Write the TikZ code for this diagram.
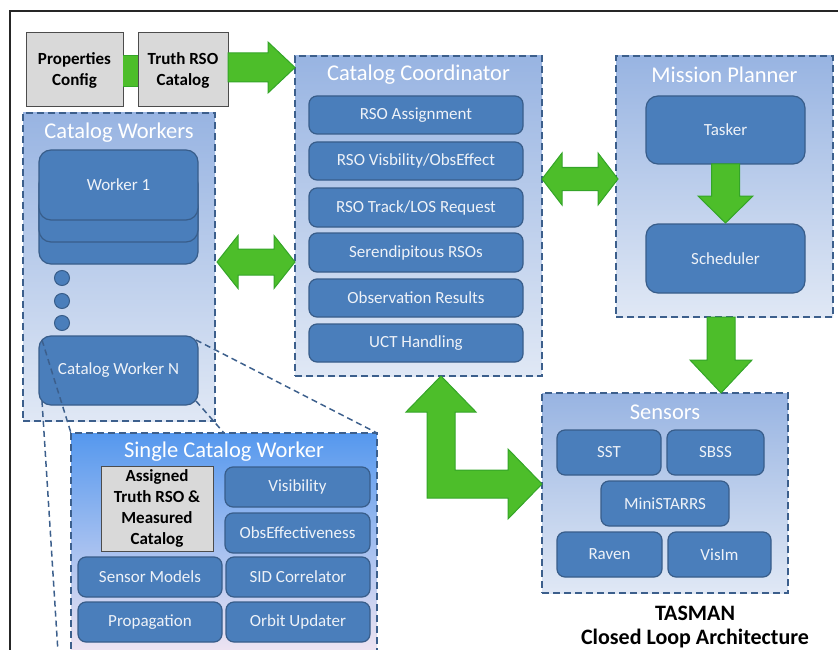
\documentclass[tikz,border=0pt]{standalone}
\usepackage{fontspec}
\setmainfont{Carlito}
\usetikzlibrary{calc}
\definecolor{itemfill}{RGB}{74,126,187}
\definecolor{itemline}{RGB}{56,93,138}
\definecolor{contline}{RGB}{60,95,140}
\definecolor{conttop}{RGB}{152,180,226}
\definecolor{contbot}{RGB}{224,232,245}
\definecolor{swtop}{RGB}{85,152,238}
\definecolor{swbot}{RGB}{250,234,242}
\definecolor{gfill}{RGB}{77,190,42}
\definecolor{gline}{RGB}{52,165,40}
\definecolor{grayfill}{RGB}{217,217,217}
\definecolor{itemtext}{RGB}{238,242,248}
\newcommand\bx[7]{\node[#1, minimum width={#5-#3}, minimum height={#6-#4}, anchor=north west] (#2) at (#3,#4) {#7};}
\begin{document}
\begin{tikzpicture}[x=1pt,y=-1pt,
 item/.style={draw=itemline, line width=1.2pt, fill=itemfill, rounded corners=8pt, text=itemtext, font=\fontsize{17}{19}\selectfont, inner sep=0pt, outer sep=0pt},
 container/.style={draw=contline, line width=1.8pt, dash pattern=on 7pt off 4pt, top color=conttop, bottom color=contbot, inner sep=0pt, outer sep=0pt},
 swbox/.style={draw=contline, line width=1.8pt, dash pattern=on 7pt off 4pt, top color=swtop, bottom color=swbot, inner sep=0pt, outer sep=0pt},
 ctitle/.style={text=white, font=\fontsize{22.5}{24}\selectfont, inner sep=0pt},
 graybox/.style={draw=black!70, line width=1pt, fill=grayfill, font=\bfseries\fontsize{17}{21}\selectfont, align=center, inner sep=0pt, outer sep=0pt},
 garrow/.style={fill=gfill, draw=gline, line width=1pt, line join=miter},
 projline/.style={draw=contline, line width=1.5pt, dash pattern=on 6pt off 4pt},
 wdot/.style={circle, draw=itemline, fill=itemfill, line width=1pt, minimum size=15pt, inner sep=0pt},
 caption/.style={font=\bfseries\fontsize{22}{24}\selectfont, text=black, inner sep=0pt}
]
\useasboundingbox (0,0) rectangle (838,650);
\clip (0,0) rectangle (838,650);
% frame
\draw[line width=2pt, draw=black!85] (10,670) -- (10,11) -- (860,11);

% containers
\bx{container}{workers}{23}{113}{215}{421}{}
\bx{container}{coord}{295}{56}{542}{376}{}
\bx{container}{planner}{616}{56}{833}{317}{}
\bx{container}{sensors}{542}{393}{788}{593}{}
\node[ctitle] (workersT) at (119,133) {Catalog Workers};
\node[ctitle] (coordT) at (418.5,75) {Catalog Coordinator};
\node[ctitle] (plannerT) at (724.5,75) {Mission Planner};
\node[ctitle] (sensorsT) at (665,412) {Sensors};

% top gray boxes
\bx{graybox}{props}{26}{33}{123}{107}{Properties\\Config}
\bx{graybox}{truth}{138}{33}{228}{107}{Truth RSO\\Catalog}
\fill[gfill] (123,56) rectangle (138,87);
\draw[gline, line width=1pt] (123,56) -- (138,56) (123,87) -- (138,87);

% coordinator items
\bx{item}{c1}{309}{96}{523}{134}{RSO Assignment}
\bx{item}{c2}{309}{142}{523}{180}{RSO Visbility/ObsEffect}
\bx{item}{c3}{309}{188}{523}{227}{RSO Track/LOS Request}
\bx{item}{c4}{309}{233}{523}{272}{Serendipitous RSOs}
\bx{item}{c5}{309}{279}{523}{317}{Observation Results}
\bx{item}{c6}{309}{324}{523}{362}{UCT Handling}

% planner items
\bx{item,rounded corners=12pt}{tasker}{646}{96}{805}{164}{Tasker}
\bx{item,rounded corners=12pt}{sched}{646}{224}{805}{293}{Scheduler}

% workers
\bx{item,rounded corners=12pt}{card3}{39}{194}{198}{264}{}
\bx{item,rounded corners=12pt}{card2}{39}{172}{198}{242}{}
\bx{item,rounded corners=12pt}{card1}{39}{150}{198}{220}{Worker 1}
\node[wdot] (d1) at (62,278) {};
\node[wdot] (d2) at (62,301) {};
\node[wdot] (d3) at (62,323) {};
\bx{item,rounded corners=12pt}{wN}{39}{336}{198}{405}{Catalog Worker N}

% sensors items
\bx{item}{sst}{557}{430}{661}{475}{SST}
\bx{item}{sbss}{667}{430}{764}{475}{SBSS}
\bx{item}{mini}{601}{481}{729}{526}{MiniSTARRS}
\bx{item}{raven}{557}{532}{662}{577}{Raven}
\bx{item}{visim}{668}{532}{771}{577}{VisIm}

% projection lines
\coordinate (pBL) at (59,668);
\coordinate (pBR) at (224,433);
\coordinate (sTL) at (71,433);
\coordinate (sTR) at (377,433);
\draw[projline] ($(wN.north west)+(3,4)$) -- (sTL);
\draw[projline] ($(wN.south west)+(3,-4)$) -- (pBL);
\draw[projline] ($(wN.north east)+(-2,4)$) -- (sTR);
\draw[projline] ($(wN.south east)+(-2,-4)$) -- (pBR);

% single catalog worker
\bx{swbox}{single}{71}{433}{377}{668}{}
\node[ctitle] (singleT) at (224,452) {Single Catalog Worker};
\bx{graybox}{assigned}{101}{466}{213}{551}{Assigned\\Truth RSO \&\\Measured\\Catalog}
\bx{item}{vis}{225}{467}{370}{507}{Visibility}
\bx{item}{obs}{225}{513}{370}{553}{ObsEffectiveness}
\bx{item}{senm}{78}{557}{222}{597}{Sensor Models}
\bx{item}{sid}{226}{557}{370}{597}{SID Correlator}
\bx{item}{prop}{78}{602}{222}{642}{Propagation}
\bx{item}{orb}{226}{602}{370}{642}{Orbit Updater}

% green arrows
\draw[garrow] (truth.east |- 0,53) -- (268,53) -- (268,42) -- (295,67.5) -- (268,93) -- (268,82) -- (truth.east |- 0,82) -- cycle;
\draw[garrow] (217,262) -- (238,235.5) -- (238,249) -- (274,249) -- (274,235.5) -- (295,262) -- (274,288.5) -- (274,275) -- (238,275) -- (238,288.5) -- cycle;
\draw[garrow] (542,179) -- (562,153) -- (562,167.5) -- (598,167.5) -- (598,153) -- (618,179) -- (598,205) -- (598,190.5) -- (562,190.5) -- (562,205) -- cycle;
\draw[garrow] (711.5,164) -- (739.5,164) -- (739.5,196) -- (753,196) -- (725.5,223) -- (698,196) -- (711.5,196) -- cycle;
\draw[garrow] (707,317) -- (735,317) -- (735,360) -- (752,360) -- (721,393) -- (690,360) -- (707,360) -- cycle;
\draw[garrow] (427,498) -- (427,412) -- (406,412) -- (441,376) -- (476,412) -- (455,412) -- (455,470) -- (508,470) -- (508,449) -- (542,484) -- (508,519) -- (508,498) -- cycle;

% caption
\node[caption] (cap1) at (695,613) {TASMAN};
\node[caption] (cap2) at (695,639) {Closed Loop Architecture};
\end{tikzpicture}
\end{document}
